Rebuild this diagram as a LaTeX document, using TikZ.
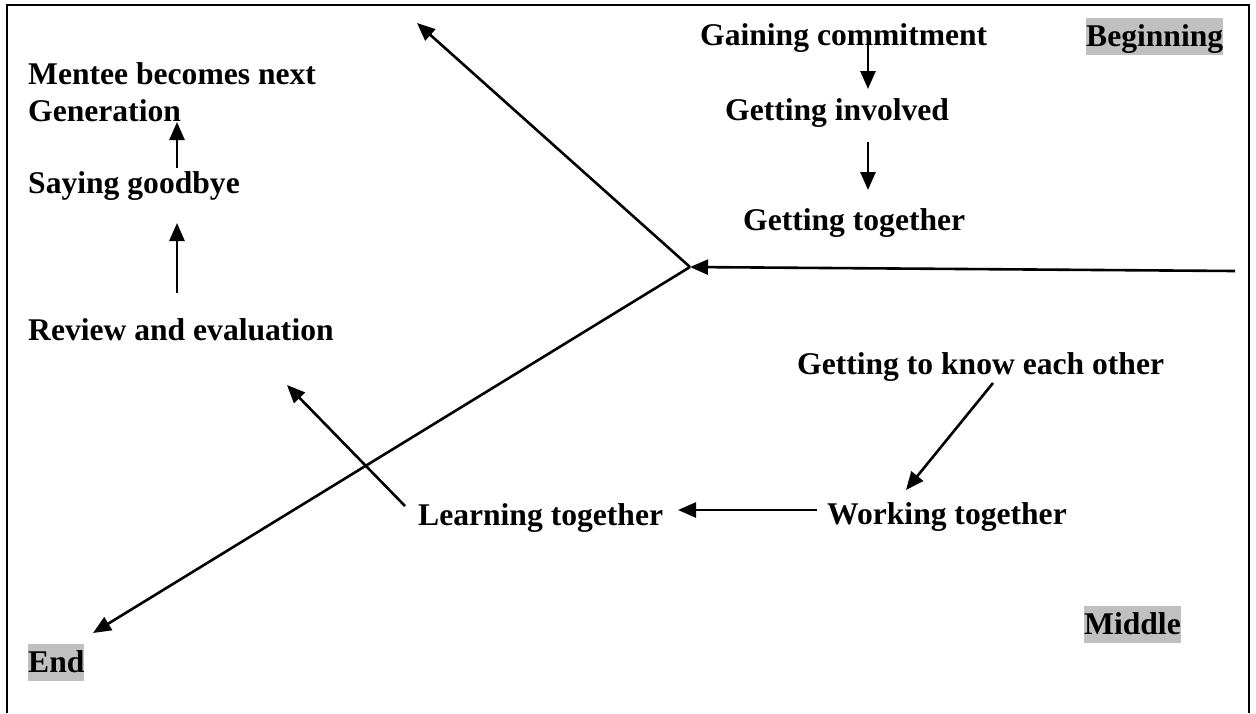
\documentclass[tikz,border=0pt]{standalone}
\usepackage{fontspec}
\setmainfont{Liberation Serif}
\usetikzlibrary{arrows.meta}
\definecolor{hlgray}{RGB}{192,192,192}
\begin{document}
\begin{tikzpicture}[x=1pt,y=-1pt,
  lbl/.style={font=\fontsize{31.6}{37}\selectfont\bfseries, inner sep=0pt, anchor=base west},
  tag/.style={lbl, fill=hlgray, text height=28pt, text depth=8.5pt},
  arr/.style={line width=2.6pt, -{Triangle[length=18pt,width=15pt]}},
  frame/.style={line width=2.6pt}]
\useasboundingbox (0,0) rectangle (1256,713);
\draw[frame] (7,713) -- (7,5) -- (1249,5) -- (1249,713);

% text nodes
\node[lbl, align=left] (mentee) at (28,121) {Mentee becomes next\\Generation};
\node[lbl] (saying) at (28,193) {Saying goodbye};
\node[lbl] (review) at (28,340) {Review and evaluation};
\node[lbl] (gaining) at (700,45) {Gaining commitment};
\node[lbl] (involved) at (725,120) {Getting involved};
\node[lbl] (gettogether) at (743,230) {Getting together};
\node[lbl] (know) at (797,374) {Getting to know each other};
\node[lbl] (working) at (827,524) {Working together};
\node[lbl] (learning) at (418,525) {Learning together};
\node[tag] (beginning) at (1086,46) {Beginning};
\node[tag] (middle) at (1084,634) {Middle};
\node[tag] (end) at (28,672) {End};

% connector end points
\coordinate (hub) at (690,267);
\coordinate (rightend) at (1235,271);
\coordinate (toptip) at (417,23);
\coordinate (endtip) at (93,633);
\coordinate (g1) at (868,33);  \coordinate (g2) at (868,89);
\coordinate (i1) at (868,142); \coordinate (i2) at (868,190);
\coordinate (s1) at (177,168); \coordinate (s2) at (177,122);
\coordinate (r1) at (177,293); \coordinate (r2) at (177,223);
\coordinate (k1) at (993,383); \coordinate (k2) at (906,490);
\coordinate (w1) at (817,510); \coordinate (w2) at (678,510);
\coordinate (l1) at (405,506); \coordinate (l2) at (287,385);

\draw[arr] (rightend) -- (hub);
\draw[arr] (hub) -- (toptip);
\draw[arr] (hub) -- (endtip);
\draw[arr] (g1) -- (g2);
\draw[arr] (i1) -- (i2);
\draw[arr] (s1) -- (s2);
\draw[arr] (r1) -- (r2);
\draw[arr] (k1) -- (k2);
\draw[arr] (w1) -- (w2);
\draw[arr] (l1) -- (l2);
\end{tikzpicture}
\end{document}
